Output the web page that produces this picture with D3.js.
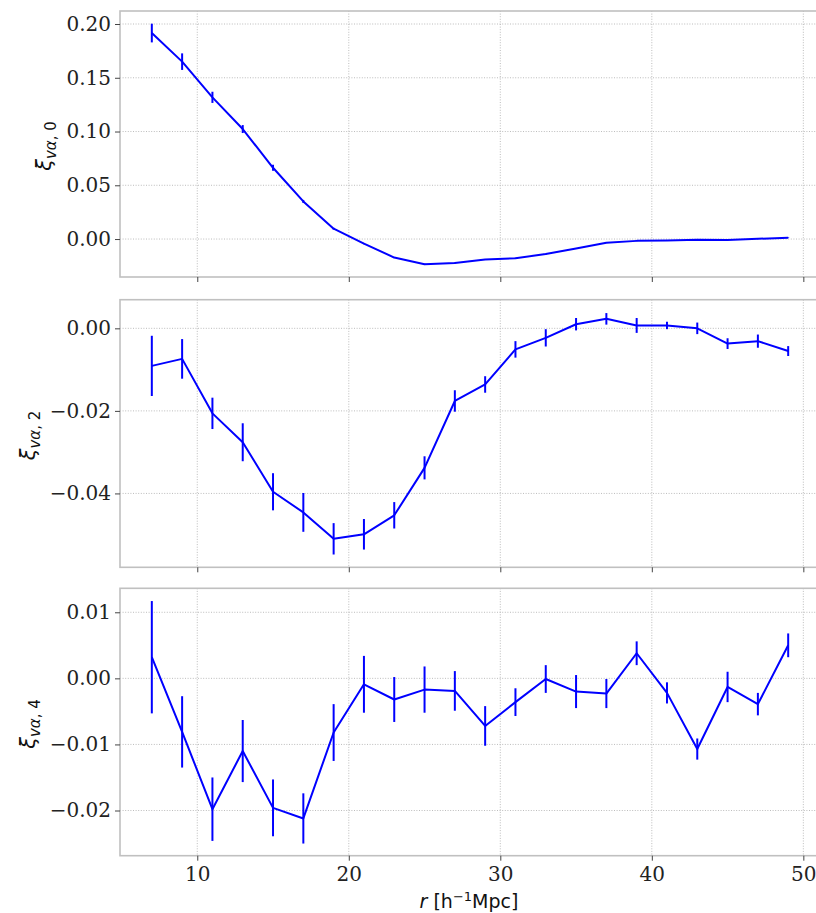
<!DOCTYPE html>
<html>
<head>
<meta charset="utf-8">
<script src="https://cdn.jsdelivr.net/npm/d3@7"></script>
<style>
  html, body { margin: 0; padding: 0; background: #fff; }
  svg { display: block; }
</style>
</head>
<body>
<svg id="chart" width="816" height="913"></svg>
<script>
// Separation bins (h^-1 Mpc)
const r = [7, 9, 11, 13, 15, 17, 19, 21, 23, 25, 27, 29, 31, 33, 35, 37, 39, 41, 43, 45, 47, 49];

// Monopole
const xi0 = [0.1916, 0.1650, 0.1318, 0.1023, 0.0663, 0.0350, 0.0096, -0.0042, -0.0172, -0.0234, -0.0222, -0.0191,
             -0.0178, -0.0140, -0.0088, -0.0034, -0.0017, -0.0013, -0.0007, -0.0009, 0.0002, 0.0012];
const err0 = [0.0087, 0.0077, 0.0052, 0.0037, 0.0028, 0.0014, 0.0008, 0.0006, 0.0005, 0.0005, 0.0004, 0.0004,
              0.0004, 0.0004, 0.0003, 0.0003, 0.0003, 0.0003, 0.0003, 0.0003, 0.0003, 0.0003];

// Quadrupole
const xi2 = [-0.0091, -0.0074, -0.0206, -0.0276, -0.0396, -0.0446, -0.0510, -0.0499, -0.0453, -0.0338, -0.0176, -0.0136,
             -0.0051, -0.0023, 0.0010, 0.0023, 0.0007, 0.0007, 0.0000, -0.0037, -0.0031, -0.0055];
const err2 = [0.0073, 0.0048, 0.0038, 0.0046, 0.0045, 0.0047, 0.0038, 0.0037, 0.0032, 0.0028, 0.0026, 0.0020,
              0.0020, 0.0021, 0.0015, 0.0014, 0.0018, 0.0009, 0.0014, 0.0013, 0.0016, 0.0012];

// Hexadecapole
const xi4 = [0.0032, -0.0081, -0.0198, -0.0110, -0.0196, -0.0212, -0.0082, -0.0009, -0.0032, -0.0017, -0.0019, -0.0072,
             -0.0036, -0.0001, -0.0020, -0.0023, 0.0038, -0.0022, -0.0107, -0.0013, -0.0039, 0.0050];
const err4 = [0.0085, 0.0054, 0.0048, 0.0047, 0.0043, 0.0038, 0.0043, 0.0043, 0.0034, 0.0035, 0.0030, 0.0030,
              0.0021, 0.0021, 0.0025, 0.0022, 0.0018, 0.0016, 0.0016, 0.0023, 0.0017, 0.0018];

// Axis ticks
const xTicks = [10, 20, 30, 40, 50];
const yTicks0 = [0.00, 0.05, 0.10, 0.15, 0.20];
const yTicks2 = [-0.04, -0.02, 0.00];
const yTicks4 = [-0.02, -0.01, 0.00, 0.01];

const panels = [
  { y: xi0, e: err0, ticks: yTicks0, domain: [-0.0353, 0.2121], top: 11,    bottom: 277,   sub: "0", labelX: 51 },
  { y: xi2, e: err2, ticks: yTicks2, domain: [-0.0579, 0.00694], top: 299.7, bottom: 567.3, sub: "2", labelX: 35 },
  { y: xi4, e: err4, ticks: yTicks4, domain: [-0.02684, 0.01363], top: 588.3, bottom: 855.7, sub: "4", labelX: 35 }
];

const svg = d3.select("#chart");
const left = 120, right = 820;
const x = d3.scaleLinear().domain([4.9, 51.1]).range([left, right]);
const blue = "#0000ff";
const fmt = d3.format(".2f");
const tickFont = "'DejaVu Serif', serif";
const labelFont = "'DejaVu Sans', sans-serif";

panels.forEach((p, i) => {
  const y = d3.scaleLinear().domain(p.domain).range([p.bottom, p.top]);
  const g = svg.append("g");

  // dotted grid
  g.append("g").selectAll("line").data(xTicks).join("line")
    .attr("x1", d => x(d)).attr("x2", d => x(d))
    .attr("y1", p.top).attr("y2", p.bottom)
    .attr("stroke", "#b4b4b4").attr("stroke-width", 0.9).attr("stroke-dasharray", "1,1.6");
  g.append("g").selectAll("line").data(p.ticks).join("line")
    .attr("x1", left).attr("x2", right)
    .attr("y1", d => y(d)).attr("y2", d => y(d))
    .attr("stroke", "#b4b4b4").attr("stroke-width", 0.9).attr("stroke-dasharray", "1,1.6");

  // frame
  g.append("rect")
    .attr("x", left).attr("y", p.top)
    .attr("width", right - left).attr("height", p.bottom - p.top)
    .attr("fill", "none").attr("stroke", "#c0c0c0").attr("stroke-width", 1.6);

  // y axis
  const yAxis = d3.axisLeft(y).tickValues(p.ticks).tickSize(5).tickPadding(4)
    .tickFormat(d => fmt(d).replace("-", "\u2212"));
  const ya = g.append("g").attr("transform", `translate(${left},0)`).call(yAxis);
  ya.select(".domain").remove();
  ya.selectAll(".tick line").attr("stroke", "#444").attr("stroke-width", 1);
  ya.selectAll(".tick text").attr("font-family", tickFont).attr("font-size", 20).attr("fill", "#222");

  // x axis
  const xAxis = d3.axisBottom(x).tickValues(xTicks).tickSize(5).tickPadding(6)
    .tickFormat(i === 2 ? d3.format("d") : () => "");
  const xa = g.append("g").attr("transform", `translate(0,${p.bottom})`).call(xAxis);
  xa.select(".domain").remove();
  xa.selectAll(".tick line").attr("stroke", "#444").attr("stroke-width", 1);
  xa.selectAll(".tick text").attr("font-family", tickFont).attr("font-size", 20).attr("fill", "#222");

  // error bars
  g.append("g").selectAll("line").data(r).join("line")
    .attr("x1", d => x(d)).attr("x2", d => x(d))
    .attr("y1", (d, k) => y(p.y[k] - p.e[k]))
    .attr("y2", (d, k) => y(p.y[k] + p.e[k]))
    .attr("stroke", blue).attr("stroke-width", 2);

  // measurement line
  const line = d3.line().x(d => x(d[0])).y(d => y(d[1]));
  g.append("path")
    .datum(r.map((d, k) => [d, p.y[k]]))
    .attr("d", line)
    .attr("fill", "none").attr("stroke", blue).attr("stroke-width", 2)
    .attr("stroke-linejoin", "round");

  // y label: xi_{v alpha, l}
  const cy = (p.top + p.bottom) / 2 + 2;
  const t = svg.append("text")
    .attr("transform", `translate(${p.labelX},${cy}) rotate(-90)`)
    .attr("text-anchor", "middle")
    .attr("font-family", labelFont).attr("fill", "#111");
  t.append("tspan").attr("font-size", 21).attr("font-style", "italic").text("\u03be");
  t.append("tspan").attr("font-size", 15).attr("dy", 5).attr("font-style", "italic").text("v\u03b1");
  t.append("tspan").attr("font-size", 15).text(", " + p.sub);
});

// x label
const xl = svg.append("text")
  .attr("x", (left + right) / 2 - 1).attr("y", 908)
  .attr("text-anchor", "middle")
  .attr("font-family", labelFont).attr("font-size", 19).attr("fill", "#111");
xl.append("tspan").attr("font-style", "italic").text("r");
xl.append("tspan").text(" [h");
xl.append("tspan").attr("font-size", 13).attr("dy", -7).text("\u22121");
xl.append("tspan").attr("dy", 7).text("Mpc]");
</script>
</body>
</html>
